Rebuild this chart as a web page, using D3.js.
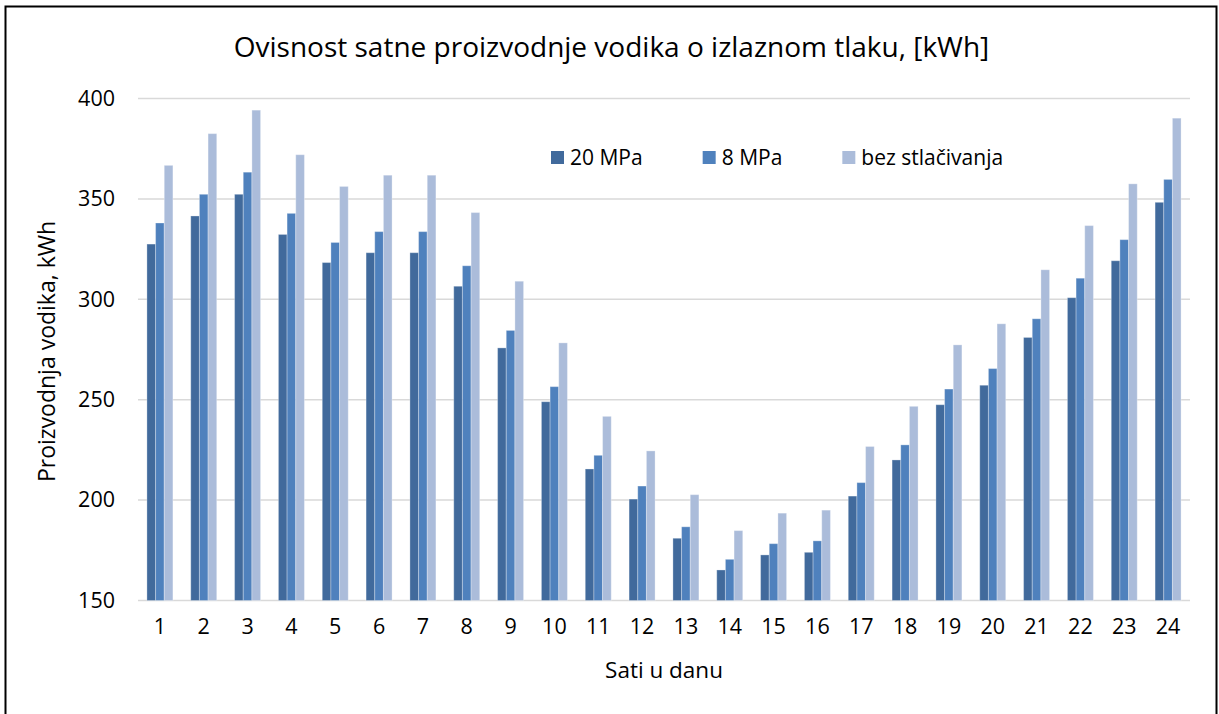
<!DOCTYPE html>
<html>
<head>
<meta charset="utf-8">
<script src="https://cdn.jsdelivr.net/npm/d3@7"></script>
<style>
  body { margin: 0; background: #fff; }
  text { font-family: 'Open Sans', sans-serif; fill: #000; }
</style>
</head>
<body>
<svg id="chart" width="1219" height="714"></svg>
<script>
// hours of the day
const hours = d3.range(1, 25).map(String)

const seriesNames = ['20 MPa', '8 MPa', 'bez stlačivanja']
const seriesColors = ['#416a9c', '#4f81bd', '#abbcda']

const mpa20 = [327.5, 341.5, 352.3, 332.3, 318.3, 323.2, 323.2, 306.5, 275.8, 249, 215.5, 200.5,
  181, 165.2, 172.7, 174, 202, 220, 247.5, 257.2, 281, 300.8, 319.2, 348.3]
const mpa8 = [338, 352.3, 363.3, 342.8, 328.3, 333.7, 333.7, 316.7, 284.5, 256.5, 222.3, 207,
  186.7, 170.5, 178.3, 179.7, 208.7, 227.5, 255.3, 265.5, 290.3, 310.5, 329.7, 359.7]
const noCompression = [366.7, 382.5, 394.2, 372, 356.2, 361.8, 361.8, 343.2, 309, 278.3, 241.7, 224.5,
  202.7, 184.8, 193.5, 195, 226.7, 246.7, 277.3, 287.8, 314.7, 336.7, 357.5, 390.2]

const yTicks = [150, 200, 250, 300, 350, 400]

const title = 'Ovisnost satne proizvodnje vodika o izlaznom tlaku, [kWh]'
const xTitle = 'Sati u danu'
const yTitle = 'Proizvodnja vodika, kWh'

const seriesValues = [mpa20, mpa8, noCompression]
const rows = hours.map((h, i) => ({
  hour: h,
  values: seriesValues.map((s, k) => ({ key: k, value: s[i] }))
}))

const svg = d3.select('#chart')
const plot = { left: 138, right: 1190, top: 98.5, bottom: 600.5 }

// outer frame
svg.append('rect')
  .attr('x', 5.5).attr('y', 6.5)
  .attr('width', 1211).attr('height', 720)
  .attr('fill', '#fff')
  .attr('stroke', '#000')
  .attr('stroke-width', 2)

const x0 = d3.scaleBand()
  .domain(hours)
  .range([plot.left, plot.right])
  .padding(0)

const x1 = d3.scaleBand()
  .domain(d3.range(seriesNames.length))
  .range([0, x0.bandwidth()])
  .paddingInner(0)
  .paddingOuter(1.03)

const y = d3.scaleLinear()
  .domain([150, 400])
  .range([plot.bottom, plot.top])

// gridlines
svg.append('g')
  .attr('class', 'grid')
  .selectAll('line')
  .data(yTicks)
  .join('line')
  .attr('x1', plot.left)
  .attr('x2', plot.right)
  .attr('y1', d => y(d))
  .attr('y2', d => y(d))
  .attr('stroke', '#d9d9d9')
  .attr('stroke-width', 1.5)

// y axis labels
const yAxis = svg.append('g')
  .attr('transform', `translate(${plot.left},0)`)
  .call(d3.axisLeft(y).tickValues(yTicks).tickSize(0).tickPadding(23))
yAxis.select('.domain').remove()
yAxis.selectAll('text')
  .attr('font-size', 21.5)
  .attr('font-family', "'Open Sans', sans-serif")
  .attr('fill', '#000')

// x axis labels
const xAxis = svg.append('g')
  .attr('transform', `translate(0,${plot.bottom})`)
  .call(d3.axisBottom(x0).tickSize(0).tickPadding(18))
xAxis.select('.domain').remove()
xAxis.selectAll('text')
  .attr('font-size', 21.5)
  .attr('font-family', "'Open Sans', sans-serif")
  .attr('fill', '#000')

// bars
svg.append('g')
  .selectAll('g')
  .data(rows)
  .join('g')
  .attr('transform', d => `translate(${x0(d.hour)},0)`)
  .selectAll('rect')
  .data(d => d.values)
  .join('rect')
  .attr('x', d => x1(d.key))
  .attr('width', x1.bandwidth())
  .attr('y', d => y(d.value))
  .attr('height', d => y(150) - y(d.value))
  .attr('fill', d => seriesColors[d.key])
  .attr('stroke', 'rgba(255,255,255,0.3)')
  .attr('stroke-width', 1)

// title
svg.append('text')
  .attr('x', 611.5)
  .attr('y', 57)
  .attr('text-anchor', 'middle')
  .attr('font-size', 28)
  .text(title)

// axis titles
svg.append('text')
  .attr('x', (plot.left + plot.right) / 2)
  .attr('y', 678)
  .attr('text-anchor', 'middle')
  .attr('font-size', 22.5)
  .text(xTitle)

svg.append('text')
  .attr('transform', `translate(55,${(plot.top + plot.bottom) / 2 + 2}) rotate(-90)`)
  .attr('text-anchor', 'middle')
  .attr('font-size', 23)
  .text(yTitle)

// legend
const legend = svg.append('g').attr('transform', 'translate(551,151)')
let lx = 0
seriesNames.forEach((name, i) => {
  const item = legend.append('g').attr('transform', `translate(${lx},0)`)
  item.append('rect')
    .attr('width', 13).attr('height', 13)
    .attr('fill', seriesColors[i])
  const t = item.append('text')
    .attr('x', 19)
    .attr('y', 14)
    .attr('font-size', 21)
    .text(name)
  lx += 19 + t.node().getComputedTextLength() + 60
})
</script>
</body>
</html>
